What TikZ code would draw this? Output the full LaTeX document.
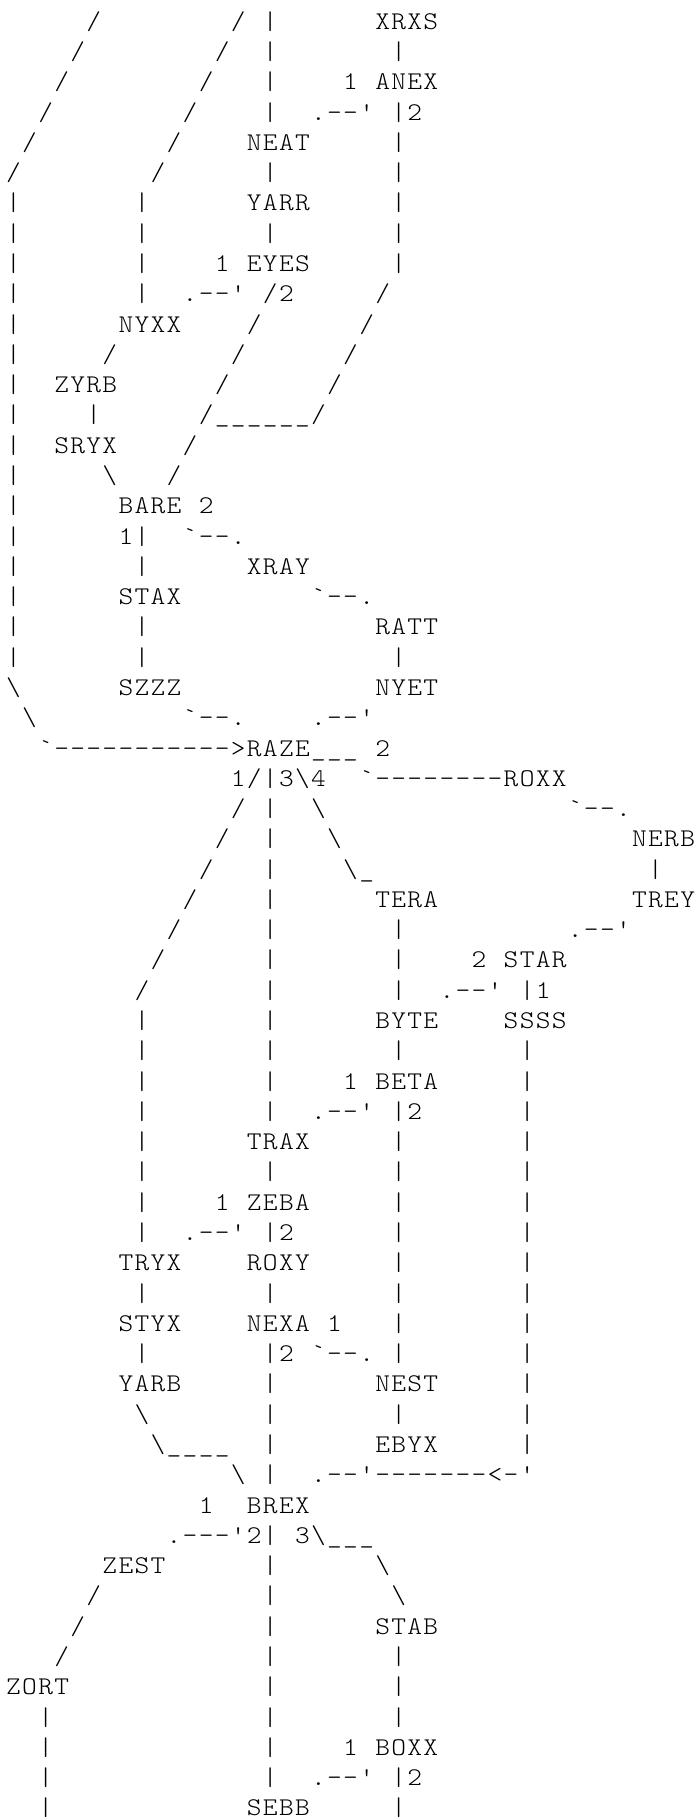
\documentclass[tikz,border=0pt]{standalone}
\usepackage{fontspec}
\usepackage{graphicx}
\newfontfamily\artfont{lmmonolt10-regular.otf}
\newlength\cw \setlength\cw{16.05pt}
\newcommand\s{}
\newcommand\bq{\textasciigrave}
\newcommand\q{\textquotesingle}
\newcommand\bs{\textbackslash}
\newcommand\us{\textunderscore}
\def\mb#1{\ifx#1\relax\else\makebox[\cw][c]{\scalebox{1.1}[1]{#1}}\expandafter\mb\fi}
\newcount\concount
\tikzset{art/.style={inner sep=0pt, outer sep=0pt, anchor=base west, text=black,
  font=\artfont\fontsize{25.5pt}{30pt}\selectfont}}
% labelled node: name, column, row, text
\newcommand\lab[4]{\node[art] (#1) at ({5.5+16.05*#2},{-29.3-30.28*(#3-1)}) {\mb#4\relax};}
% connector characters: column, row, text
\newcommand\con[3]{\global\advance\concount by 1
  \node[art] (c\the\concount) at ({5.5+16.05*#1},{-29.3-30.28*(#2-1)}) {\mb#3\relax};}
\begin{document}
\begin{tikzpicture}[x=1pt,y=1pt]
\useasboundingbox (0,0) rectangle (696,-1819);
\fill[white] (0,0) rectangle (696,-1819);
% row 1
\con{5}{1}{/}\con{14}{1}{/}\con{16}{1}{|}\lab{XRXS}{23}{1}{XRXS}
% row 2
\con{4}{2}{/}\con{13}{2}{/}\con{16}{2}{|}\con{24}{2}{|}
% row 3
\con{3}{3}{/}\con{12}{3}{/}\con{16}{3}{|}\con{21}{3}{1}\lab{ANEX}{23}{3}{ANEX}
% row 4
\con{2}{4}{/}\con{11}{4}{/}\con{16}{4}{|}\con{19}{4}{.--\q}\con{24}{4}{|2}
% row 5
\con{1}{5}{/}\con{10}{5}{/}\lab{NEAT}{15}{5}{NEAT}\con{24}{5}{|}
% row 6
\con{0}{6}{/}\con{9}{6}{/}\con{16}{6}{|}\con{24}{6}{|}
% row 7
\con{0}{7}{|}\con{8}{7}{|}\lab{YARR}{15}{7}{YARR}\con{24}{7}{|}
% row 8
\con{0}{8}{|}\con{8}{8}{|}\con{16}{8}{|}\con{24}{8}{|}
% row 9
\con{0}{9}{|}\con{8}{9}{|}\con{13}{9}{1}\lab{EYES}{15}{9}{EYES}\con{24}{9}{|}
% row 10
\con{0}{10}{|}\con{8}{10}{|}\con{11}{10}{.--\q}\con{16}{10}{/2}\con{23}{10}{/}
% row 11
\con{0}{11}{|}\lab{NYXX}{7}{11}{NYXX}\con{15}{11}{/}\con{22}{11}{/}
% row 12
\con{0}{12}{|}\con{6}{12}{/}\con{14}{12}{/}\con{21}{12}{/}
% row 13
\con{0}{13}{|}\lab{ZYRB}{3}{13}{ZYRB}\con{13}{13}{/}\con{20}{13}{/}
% row 14
\con{0}{14}{|}\con{5}{14}{|}\con{12}{14}{/\us\us\us\us\us\us/}
% row 15
\con{0}{15}{|}\lab{SRYX}{3}{15}{SRYX}\con{11}{15}{/}
% row 16
\con{0}{16}{|}\con{6}{16}{\bs}\con{10}{16}{/}
% row 17
\con{0}{17}{|}\lab{BARE}{7}{17}{BARE}\con{12}{17}{2}
% row 18
\con{0}{18}{|}\con{7}{18}{1|}\con{11}{18}{\bq--.}
% row 19
\con{0}{19}{|}\con{8}{19}{|}\lab{XRAY}{15}{19}{XRAY}
% row 20
\con{0}{20}{|}\lab{STAX}{7}{20}{STAX}\con{19}{20}{\bq--.}
% row 21
\con{0}{21}{|}\con{8}{21}{|}\lab{RATT}{23}{21}{RATT}
% row 22
\con{0}{22}{|}\con{8}{22}{|}\con{24}{22}{|}
% row 23
\con{0}{23}{\bs}\lab{SZZZ}{7}{23}{SZZZ}\lab{NYET}{23}{23}{NYET}
% row 24
\con{1}{24}{\bs}\con{11}{24}{\bq--.}\con{19}{24}{.--\q}
% row 25
\con{2}{25}{\bq----------->}\lab{RAZE}{15}{25}{RAZE}\con{19}{25}{\us\us\us}\con{23}{25}{2}
% row 26
\con{14}{26}{1/|3\bs 4}\con{22}{26}{\bq--------}\lab{ROXX}{31}{26}{ROXX}
% row 27
\con{14}{27}{/}\con{16}{27}{|}\con{19}{27}{\bs}\con{35}{27}{\bq--.}
% row 28
\con{13}{28}{/}\con{16}{28}{|}\con{20}{28}{\bs}\lab{NERB}{39}{28}{NERB}
% row 29
\con{12}{29}{/}\con{16}{29}{|}\con{21}{29}{\bs\us}\con{40}{29}{|}
% row 30
\con{11}{30}{/}\con{16}{30}{|}\lab{TERA}{23}{30}{TERA}\lab{TREY}{39}{30}{TREY}
% row 31
\con{10}{31}{/}\con{16}{31}{|}\con{24}{31}{|}\con{35}{31}{.--\q}
% row 32
\con{9}{32}{/}\con{16}{32}{|}\con{24}{32}{|}\con{29}{32}{2}\lab{STAR}{31}{32}{STAR}
% row 33
\con{8}{33}{/}\con{16}{33}{|}\con{24}{33}{|}\con{27}{33}{.--\q}\con{32}{33}{|1}
% row 34
\con{8}{34}{|}\con{16}{34}{|}\lab{BYTE}{23}{34}{BYTE}\lab{SSSS}{31}{34}{SSSS}
% row 35
\con{8}{35}{|}\con{16}{35}{|}\con{24}{35}{|}\con{32}{35}{|}
% row 36
\con{8}{36}{|}\con{16}{36}{|}\con{21}{36}{1}\lab{BETA}{23}{36}{BETA}\con{32}{36}{|}
% row 37
\con{8}{37}{|}\con{16}{37}{|}\con{19}{37}{.--\q}\con{24}{37}{|2}\con{32}{37}{|}
% row 38
\con{8}{38}{|}\lab{TRAX}{15}{38}{TRAX}\con{24}{38}{|}\con{32}{38}{|}
% row 39
\con{8}{39}{|}\con{16}{39}{|}\con{24}{39}{|}\con{32}{39}{|}
% row 40
\con{8}{40}{|}\con{13}{40}{1}\lab{ZEBA}{15}{40}{ZEBA}\con{24}{40}{|}\con{32}{40}{|}
% row 41
\con{8}{41}{|}\con{11}{41}{.--\q}\con{16}{41}{|2}\con{24}{41}{|}\con{32}{41}{|}
% row 42
\lab{TRYX}{7}{42}{TRYX}\lab{ROXY}{15}{42}{ROXY}\con{24}{42}{|}\con{32}{42}{|}
% row 43
\con{8}{43}{|}\con{16}{43}{|}\con{24}{43}{|}\con{32}{43}{|}
% row 44
\lab{STYX}{7}{44}{STYX}\lab{NEXA}{15}{44}{NEXA}\con{20}{44}{1}\con{24}{44}{|}\con{32}{44}{|}
% row 45
\con{8}{45}{|}\con{16}{45}{|2}\con{19}{45}{\bq--.}\con{24}{45}{|}\con{32}{45}{|}
% row 46
\lab{YARB}{7}{46}{YARB}\con{16}{46}{|}\lab{NEST}{23}{46}{NEST}\con{32}{46}{|}
% row 47
\con{8}{47}{\bs}\con{16}{47}{|}\con{24}{47}{|}\con{32}{47}{|}
% row 48
\con{9}{48}{\bs\us\us\us\us}\con{16}{48}{|}\lab{EBYX}{23}{48}{EBYX}\con{32}{48}{|}
% row 49
\con{14}{49}{\bs}\con{16}{49}{|}\con{19}{49}{.--\q-------<-\q}
% row 50
\con{12}{50}{1}\lab{BREX}{15}{50}{BREX}
% row 51
\con{10}{51}{.---\q 2|}\con{18}{51}{3\bs\us\us\us}
% row 52
\lab{ZEST}{6}{52}{ZEST}\con{16}{52}{|}\con{23}{52}{\bs}
% row 53
\con{5}{53}{/}\con{16}{53}{|}\con{24}{53}{\bs}
% row 54
\con{4}{54}{/}\con{16}{54}{|}\lab{STAB}{23}{54}{STAB}
% row 55
\con{3}{55}{/}\con{16}{55}{|}\con{24}{55}{|}
% row 56
\lab{ZORT}{0}{56}{ZORT}\con{16}{56}{|}\con{24}{56}{|}
% row 57
\con{2}{57}{|}\con{16}{57}{|}\con{24}{57}{|}
% row 58
\con{2}{58}{|}\con{16}{58}{|}\con{21}{58}{1}\lab{BOXX}{23}{58}{BOXX}
% row 59
\con{2}{59}{|}\con{16}{59}{|}\con{19}{59}{.--\q}\con{24}{59}{|2}
% row 60
\con{2}{60}{|}\lab{SEBB}{15}{60}{SEBB}\con{24}{60}{|}
\end{tikzpicture}
\end{document}
